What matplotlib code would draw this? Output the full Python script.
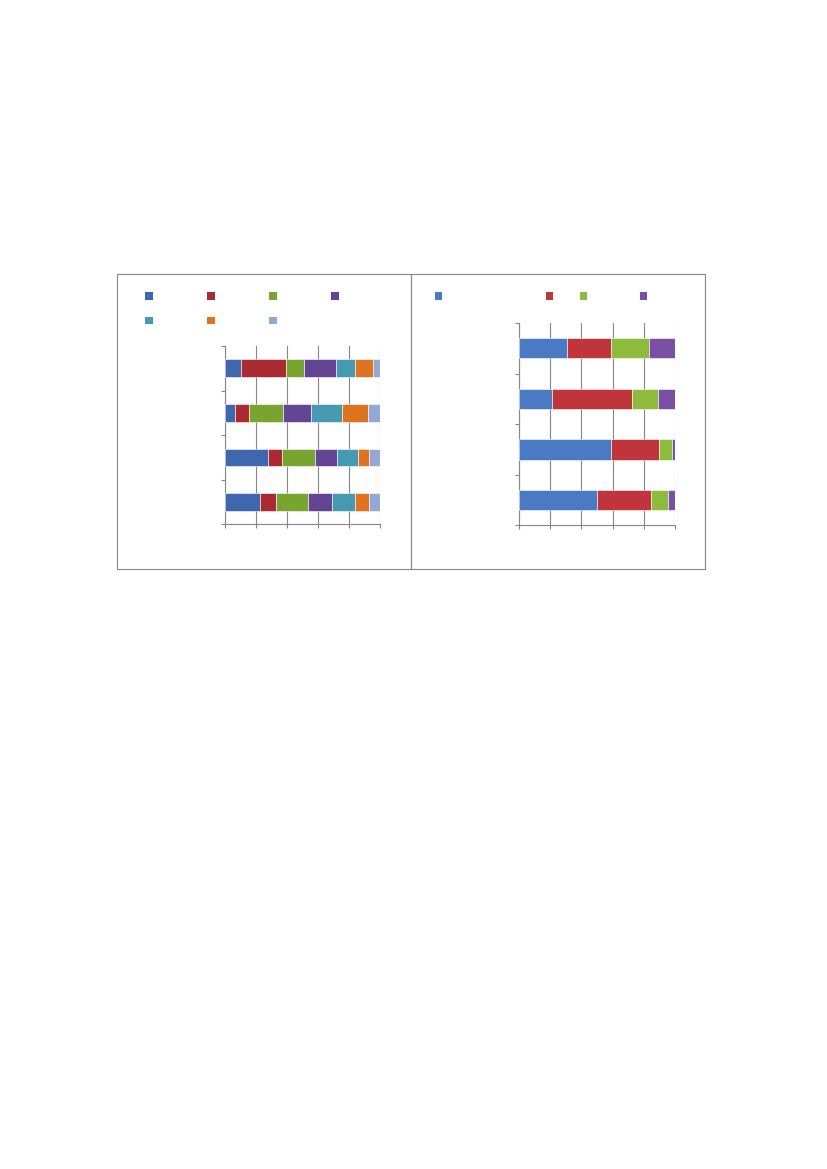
import matplotlib
matplotlib.use('Agg')
import matplotlib.pyplot as plt
from matplotlib.patches import Rectangle
import numpy as np

# left panel: 4 bars (bottom to top), 7 series, shares in %
left_s1 = [22.7, 27.6, 6.9, 10.5]
left_s2 = [10.5, 9.4, 8.8, 28.9]
left_s3 = [20.6, 21.0, 21.6, 11.8]
left_s4 = [15.4, 14.3, 18.2, 20.6]
left_s5 = [14.6, 13.3, 19.7, 12.0]
left_s6 = [9.2, 7.3, 17.1, 11.8]
left_s7 = [7.1, 7.1, 7.7, 4.5]
left_colors = ['#3F67AD', '#A92B31', '#77A530', '#634593', '#4599B1', '#E07320', '#93A8D5']

# right panel: 4 bars (bottom to top), 4 series
right_s1 = [50.0, 58.9, 21.3, 30.9]
right_s2 = [34.5, 30.6, 51.3, 28.3]
right_s3 = [11.1, 8.5, 16.4, 24.3]
right_s4 = [4.5, 1.9, 11.1, 16.6]
right_colors = ['#4A7AC4', '#C0353C', '#8CBB3D', '#7950A3']

GRAY = '#868686'
W, H = 827, 1169


def fx(px):
    return px / W


def fy(py):
    return 1 - py / H


def stacked(ax, series, colors):
    data = np.array(series, dtype=float)
    data = data / data.sum(axis=0) * 100
    y = np.arange(data.shape[1])
    left = np.zeros(data.shape[1])
    for vals, c in zip(data, colors):
        ax.barh(y, vals, left=left, height=0.4, color=c, edgecolor='white',
                linewidth=0.4, zorder=3)
        left += vals
    ax.set_xlim(0, 100)
    ax.set_ylim(-0.5, len(y) - 0.5)
    ax.set_xticks(np.arange(0, 101, 20))
    ax.set_yticks(np.arange(-0.5, len(y), 1.0))
    ax.set_xticklabels([])
    ax.set_yticklabels([])
    ax.tick_params(direction='out', length=3, width=0.8, color=GRAY)
    ax.xaxis.grid(True, color=GRAY, linewidth=0.8, zorder=0)
    ax.set_axisbelow(True)
    for s in ['top', 'right']:
        ax.spines[s].set_visible(False)
    for s in ['left', 'bottom']:
        ax.spines[s].set_color(GRAY)
        ax.spines[s].set_linewidth(0.8)


def legend_box(fig, x, y, color, size=7.5):
    fig.patches.append(Rectangle((fx(x), fy(y + size)), size / W, size / H,
                                 transform=fig.transFigure, facecolor=color,
                                 edgecolor='none'))


fig = plt.figure(figsize=(8.27, 11.69), dpi=100)

# panel frames
for x0, x1 in [(117, 411), (411, 705)]:
    fig.patches.append(Rectangle((fx(x0), fy(569)), (x1 - x0) / W, (569 - 274.5) / H,
                                 transform=fig.transFigure, fill=False,
                                 edgecolor=GRAY, linewidth=0.8))

axL = fig.add_axes([fx(224.7), fy(524.3), (380.3 - 224.7) / W, (524.3 - 346) / H])
stacked(axL, [left_s1, left_s2, left_s3, left_s4, left_s5, left_s6, left_s7], left_colors)

axR = fig.add_axes([fx(518.7), fy(525.3), (675.3 - 518.7) / W, (525.3 - 323) / H])
stacked(axR, [right_s1, right_s2, right_s3, right_s4], right_colors)

# legend swatches (labels absent in the reference)
left_pos = [(145, 292), (207, 292), (269, 292), (331, 292),
            (145, 316.5), (207, 316.5), (269, 316.5)]
for (x, y), c in zip(left_pos, left_colors):
    legend_box(fig, x, y, c)

right_pos = [(435, 292), (545.5, 292), (579.5, 292), (639.5, 292)]
for (x, y), c in zip(right_pos, right_colors):
    legend_box(fig, x, y, c)

fig.savefig('out.png', dpi=100, facecolor='white')
